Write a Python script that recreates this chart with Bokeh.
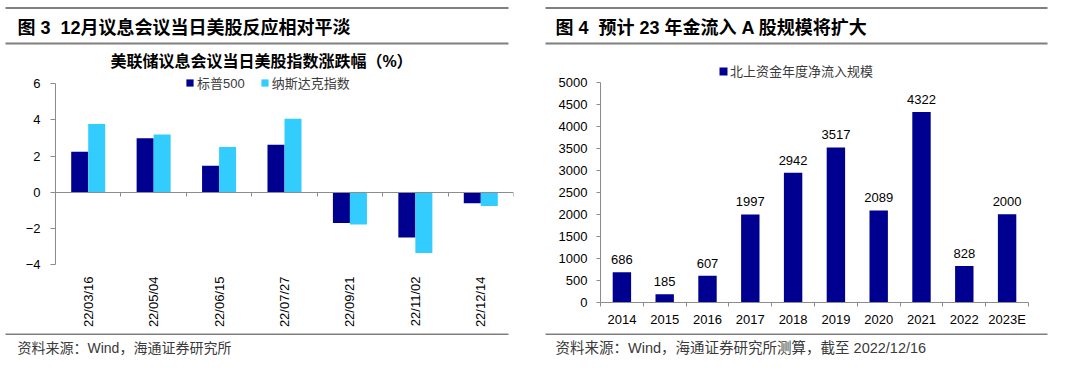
import numpy as np
from bokeh.plotting import figure
from bokeh.models import (Range1d, LinearAxis, FixedTicker, Legend, LegendItem,
                          ColumnDataSource)
from bokeh.layouts import row, column
from bokeh.embed import file_html
from bokeh.resources import INLINE
from bokeh.core.properties import value

# ---------------- data ----------------
dates = ["22/03/16", "22/05/04", "22/06/15", "22/07/27", "22/09/21", "22/11/02", "22/12/14"]
sp500 = [2.24, 2.99, 1.46, 2.62, -1.71, -2.50, -0.61]
nasdaq = [3.77, 3.19, 2.50, 4.06, -1.79, -3.36, -0.76]
left_yticks = [-4, -2, 0, 2, 4, 6]

years = ["2014", "2015", "2016", "2017", "2018", "2019", "2020", "2021", "2022", "2023E"]
inflow = [686, 185, 607, 1997, 2942, 3517, 2089, 4322, 828, 2000]
right_yticks = [0, 500, 1000, 1500, 2000, 2500, 3000, 3500, 4000, 4500, 5000]

left_header = "图 3\u00a0\u00a012月议息会议当日美股反应相对平淡"
left_title = "美联储议息会议当日美股指数涨跌幅（%）"
left_series = ["标普500", "纳斯达克指数"]
left_source = "资料来源：Wind，海通证券研究所"
right_header = "图 4\u00a0\u00a0预计 23 年金流入 A 股规模将扩大"
right_series = "北上资金年度净流入规模"
right_source = "资料来源：Wind，海通证券研究所测算，截至 2022/12/16"

# ---------------- styles ----------------
FONT_S = "Liberation Sans, Noto Sans CJK SC"
FONT = value(FONT_S)
NAVY = "#000090"
LIGHT = "#33CCFF"
AXIS = "#8C8C8C"
RULE = "#7F7F7F"
TXT = "#000000"
SRC = "#3A3A3A"


def deco(width, height):
    f = figure(width=width, height=height, x_range=Range1d(0, width),
               y_range=Range1d(height, 0), output_backend="svg",
               toolbar_location=None, x_axis_type=None, y_axis_type=None,
               min_border=0, outline_line_color=None, frame_align=False)
    f.xgrid.visible = False
    f.ygrid.visible = False
    return f


def style_axis(ax):
    ax.axis_line_color = AXIS
    ax.major_tick_line_color = AXIS
    ax.minor_tick_line_color = None
    ax.major_label_text_font = FONT_S
    ax.major_label_text_font_size = "13px"
    ax.major_label_text_color = TXT


# ================= LEFT PANEL =================
WL = 540
hl = deco(WL, 75)
hl.segment(x0=[5], y0=[7.5], x1=[508], y1=[7.5], line_color=RULE, line_width=2)
hl.segment(x0=[5], y0=[43], x1=[508], y1=[43], line_color=RULE, line_width=2)
hl.text(x=[17], y=[27], text=[left_header], text_font=FONT, text_font_size="18px",
        text_font_style="bold", text_baseline="middle", text_align="left", text_color=TXT)
hl.text(x=[261], y=[61], text=[left_title], text_font=FONT, text_font_size="16px",
        text_font_style="bold", text_baseline="middle", text_align="center", text_color=TXT)

n = len(dates)
centers = [i + 0.5 for i in range(n)]
bw = 0.26
src_l = ColumnDataSource(dict(
    x1=[c - bw / 2 for c in centers], x2=[c + bw / 2 for c in centers],
    sp=sp500, nq=nasdaq))

pl = figure(width=WL, height=258, x_range=Range1d(0, n), y_range=Range1d(-4, 6.4),
            output_backend="svg", toolbar_location=None, outline_line_color=None,
            frame_align=False,
            min_border_left=55, min_border_right=27, min_border_top=1, min_border_bottom=69)
pl.xgrid.visible = False
pl.ygrid.visible = False
r1 = pl.vbar(x="x1", top="sp", bottom=0, width=bw, source=src_l, fill_color=NAVY, line_color=None)
r2 = pl.vbar(x="x2", top="nq", bottom=0, width=bw, source=src_l, fill_color=LIGHT, line_color=None)

xa = pl.xaxis[0]
style_axis(xa)
xa.ticker = FixedTicker(ticks=centers)
xa.major_label_overrides = {c: d for c, d in zip(centers, dates)}
xa.major_label_orientation = np.pi / 2
xa.axis_line_color = None
xa.major_tick_line_color = None
xa.major_label_standoff = 6

za = LinearAxis(fixed_location=0, ticker=FixedTicker(ticks=list(range(n + 1))))
style_axis(za)
za.major_tick_in = 0
za.major_tick_out = 4
za.major_label_text_color = None
za.major_label_text_font_size = "1px"
pl.add_layout(za, "below")

ya = pl.yaxis[0]
style_axis(ya)
ya.ticker = FixedTicker(ticks=left_yticks)
ya.bounds = (-4, 6)
ya.major_tick_in = 0
ya.major_tick_out = 5
ya.major_label_standoff = 10

leg_l = Legend(items=[LegendItem(label=left_series[0], renderers=[r1]),
                      LegendItem(label=left_series[1], renderers=[r2])],
               orientation="horizontal", location=(130, 172), padding=0, margin=0,
               border_line_color=None, background_fill_alpha=0,
               glyph_width=9, glyph_height=9, label_standoff=3, spacing=15,
               label_height=13, label_text_font=FONT_S, label_text_font_size="13px",
               label_text_color=SRC)
pl.add_layout(leg_l)

fl = deco(WL, 27)
fl.segment(x0=[5], y0=[0.5], x1=[508], y1=[0.5], line_color=RULE, line_width=2)
fl.text(x=[17], y=[14], text=[left_source], text_font=FONT, text_font_size="14px",
        text_baseline="middle", text_align="left", text_color=SRC)

# ================= RIGHT PANEL =================
WR = 524
hr = deco(WR, 50)
hr.segment(x0=[5], y0=[7.5], x1=[507], y1=[7.5], line_color=RULE, line_width=2)
hr.segment(x0=[5], y0=[43], x1=[507], y1=[43], line_color=RULE, line_width=2)
hr.text(x=[15], y=[27], text=[right_header], text_font=FONT, text_font_size="18px",
        text_font_style="bold", text_baseline="middle", text_align="left", text_color=TXT)

m = len(years)
rc = [i + 0.5 for i in range(m)]
src_r = ColumnDataSource(dict(x=rc, v=inflow, lab=[str(v) for v in inflow]))

pr = figure(width=WR, height=283, x_range=Range1d(0, m), y_range=Range1d(0, 5400),
            output_backend="svg", toolbar_location=None, outline_line_color=None,
            frame_align=False,
            min_border_left=60, min_border_right=36, min_border_top=14, min_border_bottom=31)
pr.xgrid.visible = False
pr.ygrid.visible = False
r3 = pr.vbar(x="x", top="v", bottom=0, width=0.43, source=src_r, fill_color=NAVY, line_color=None)
pr.text(x="x", y="v", text="lab", source=src_r, text_font=FONT, text_font_size="13px",
        text_align="center", text_baseline="bottom", y_offset=-8, text_color=TXT)

xb = pr.xaxis[0]
style_axis(xb)
xb.ticker = FixedTicker(ticks=rc, minor_ticks=list(range(m + 1)))
xb.major_label_overrides = {c: y for c, y in zip(rc, years)}
xb.major_tick_line_color = None
xb.major_tick_in = 0
xb.major_tick_out = 0
xb.minor_tick_line_color = AXIS
xb.minor_tick_in = 0
xb.minor_tick_out = 4
xb.major_label_standoff = 5

yb = pr.yaxis[0]
style_axis(yb)
yb.ticker = FixedTicker(ticks=right_yticks)
yb.bounds = (0, 5000)
yb.major_tick_in = 0
yb.major_tick_out = 4
yb.major_label_standoff = 9

leg_r = Legend(items=[LegendItem(label=right_series, renderers=[r3])],
               orientation="horizontal", location=(118, 222), padding=0, margin=0,
               border_line_color=None, background_fill_alpha=0,
               glyph_width=10, glyph_height=10, label_standoff=2,
               label_height=13, label_text_font=FONT_S, label_text_font_size="13px",
               label_text_color=SRC)
pr.add_layout(leg_r)

fr = deco(WR, 27)
fr.segment(x0=[5], y0=[0.5], x1=[507], y1=[0.5], line_color=RULE, line_width=2)
fr.text(x=[15], y=[14], text=[right_source], text_font=FONT, text_font_size="14.5px",
        text_baseline="middle", text_align="left", text_color=SRC)

layout = row(column(hl, pl, fl), column(hr, pr, fr))

open("out.html", "w").write(file_html(layout, INLINE))
